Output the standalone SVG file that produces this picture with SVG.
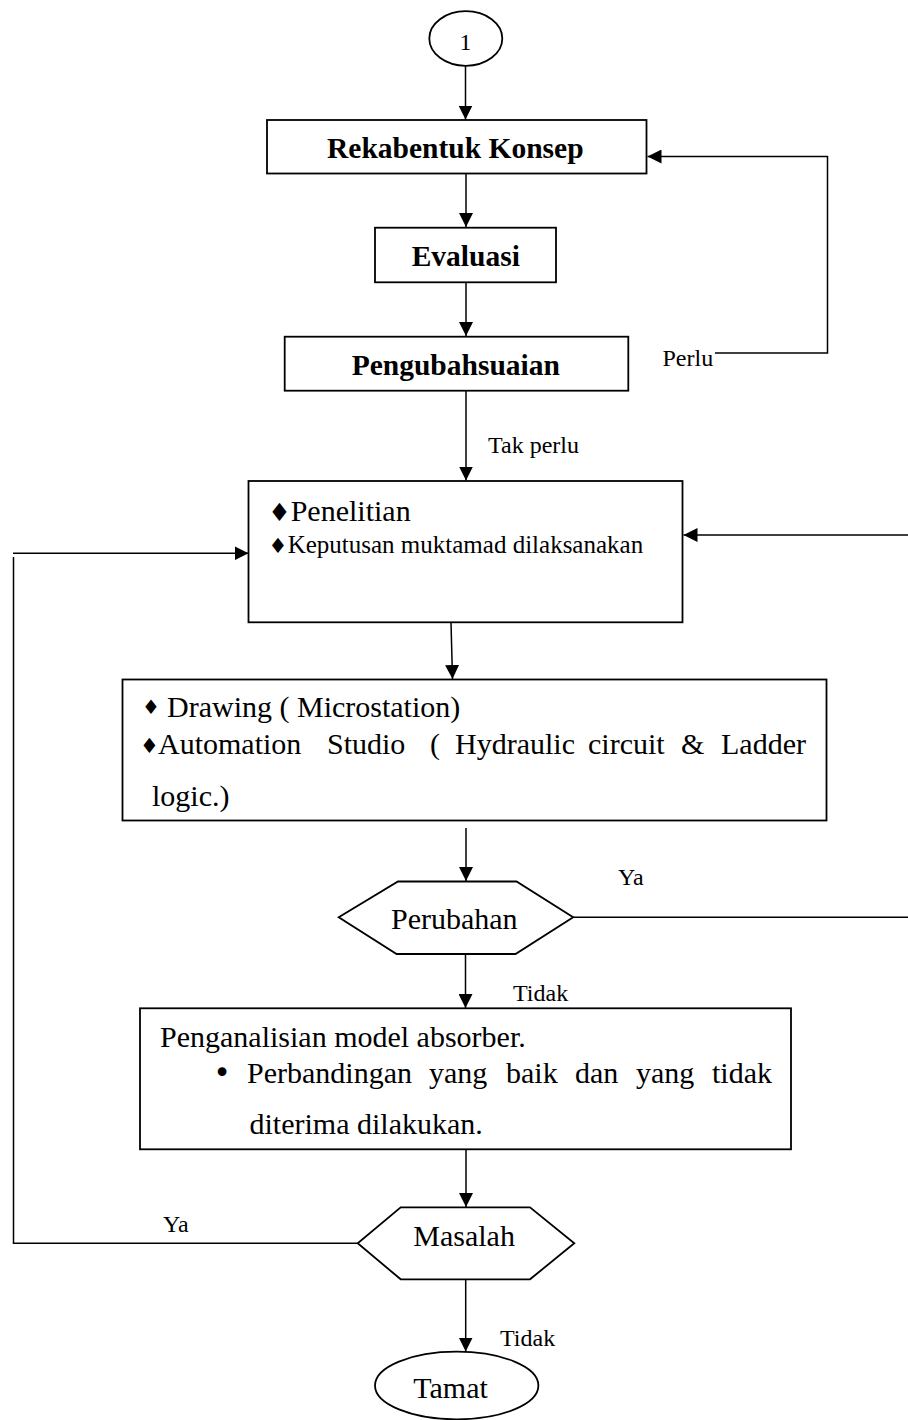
<svg xmlns="http://www.w3.org/2000/svg" width="908" height="1420" viewBox="0 0 908 1420">
<style>
.box{fill:#fff;stroke:#000;stroke-width:1.8}
.ln{fill:none;stroke:#000;stroke-width:1.5}
.b{font-family:"Liberation Serif","Times New Roman",serif;font-weight:bold;font-size:29.5px;fill:#000}
.t{font-family:"Liberation Serif","Times New Roman",serif;font-size:30px;fill:#000}
.s{font-family:"Liberation Serif","Times New Roman",serif;font-size:25px;fill:#000}
.l{font-family:"Liberation Serif","Times New Roman",serif;font-size:24px;fill:#000}
.d{font-family:"DejaVu Sans",sans-serif;fill:#000;text-anchor:middle}
</style>
<defs>
<marker id="ah" markerUnits="userSpaceOnUse" markerWidth="14" markerHeight="14" refX="14" refY="7" orient="auto">
<path d="M0,0 L14,7 L0,14 z" fill="#000"/>
</marker>
</defs>
<g id="connectors">
<line class="ln" x1="465.5" y1="66" x2="465.5" y2="119.5" marker-end="url(#ah)"/>
<line class="ln" x1="466" y1="174" x2="466" y2="227" marker-end="url(#ah)"/>
<line class="ln" x1="466" y1="283" x2="466" y2="336" marker-end="url(#ah)"/>
<polyline class="ln" points="715,353 827.5,353 827.5,156.5 647.5,156.5" marker-end="url(#ah)"/>
<line class="ln" x1="466" y1="391" x2="466" y2="480.5" marker-end="url(#ah)"/>
<line class="ln" x1="573" y1="917.3" x2="908" y2="917.3"/>
<line class="ln" x1="908" y1="535" x2="683.5" y2="535" marker-end="url(#ah)"/>
<line class="ln" x1="451" y1="622.5" x2="452.5" y2="679" marker-end="url(#ah)"/>
<line class="ln" x1="466" y1="828" x2="466" y2="881" marker-end="url(#ah)"/>
<line class="ln" x1="465.5" y1="954" x2="465.5" y2="1008" marker-end="url(#ah)"/>
<line class="ln" x1="466" y1="1149.5" x2="466" y2="1207" marker-end="url(#ah)"/>
<polyline class="ln" points="357.7,1243.3 13.5,1243.3 13.5,557"/>
<line class="ln" x1="13" y1="553.3" x2="248.5" y2="553.3" marker-end="url(#ah)"/>
<line class="ln" x1="465.7" y1="1279.5" x2="465.7" y2="1351.5" marker-end="url(#ah)"/>
<text class="l" x="662.5" y="366">Perlu</text>
<text class="l" x="488" y="453">Tak perlu</text>
<text class="l" x="618" y="885">Ya</text>
<text class="l" x="513" y="1000.5">Tidak</text>
<text class="l" x="163" y="1232">Ya</text>
<text class="l" x="500" y="1345.5">Tidak</text>
</g>
<g id="start">
<ellipse class="box" cx="465.8" cy="38.5" rx="36.5" ry="27.3"/>
<text class="l" x="465.5" y="50" text-anchor="middle">1</text>
</g>
<g id="rekabentuk">
<rect class="box" x="267" y="120" width="379.5" height="53.5"/>
<text class="b" x="327" y="158">Rekabentuk Konsep</text>
</g>
<g id="evaluasi">
<rect class="box" x="375" y="227.7" width="181" height="54.6"/>
<text class="b" x="411.7" y="265.5">Evaluasi</text>
</g>
<g id="pengubahsuaian">
<rect class="box" x="284.7" y="336.7" width="343.6" height="54"/>
<text class="b" x="351.7" y="375">Pengubahsuaian</text>
</g>
<g id="penelitian">
<rect class="box" x="248.5" y="481" width="434" height="141.3"/>
<text class="d" x="279.5" y="520.5" font-size="25">♦</text>
<text class="t" x="290.7" y="520.7">Penelitian</text>
<text class="d" x="277.8" y="552.5" font-size="21">♦</text>
<text class="s" x="287.7" y="552.7">Keputusan muktamad dilaksanakan</text>
</g>
<g id="drawing">
<rect class="box" x="122.5" y="679.5" width="704" height="141"/>
<text class="d" x="151" y="713.5" font-size="20">♦</text>
<text class="t" x="167" y="717">Drawing ( Microstation)</text>
<text class="d" x="149.5" y="752.5" font-size="21">♦</text>
<text class="t" y="754"><tspan x="158">Automation</tspan><tspan x="327">Studio</tspan><tspan x="430">(</tspan><tspan x="455">Hydraulic</tspan><tspan x="588">circuit</tspan><tspan x="681">&amp;</tspan><tspan x="721">Ladder</tspan></text>
<text class="t" x="152" y="806">logic.)</text>
</g>
<g id="perubahan">
<polygon class="box" points="398,881.5 516.5,881.5 573.2,917.3 515.5,954 396.6,954 338.7,917.3"/>
<text class="t" x="391" y="928.5">Perubahan</text>
</g>
<g id="penganalisian">
<rect class="box" x="140" y="1008.3" width="651" height="141"/>
<text class="t" x="160" y="1047.3">Penganalisian model absorber.</text>
<text class="d" x="222" y="1083" font-size="30">•</text>
<text class="t" y="1083.3"><tspan x="247">Perbandingan</tspan><tspan x="429">yang</tspan><tspan x="506">baik</tspan><tspan x="575">dan</tspan><tspan x="636">yang</tspan><tspan x="712">tidak</tspan></text>
<text class="t" x="249.5" y="1134">diterima dilakukan.</text>
</g>
<g id="masalah">
<polygon class="box" points="400.7,1207.3 530,1207.3 574.3,1243.3 530,1279.3 400.7,1279.3 357.7,1243.3"/>
<text class="t" x="413.3" y="1245.7">Masalah</text>
</g>
<g id="tamat">
<ellipse class="box" cx="456.7" cy="1385.5" rx="81.7" ry="33.8"/>
<text class="t" x="413.3" y="1398.3">Tamat</text>
</g>
</svg>
